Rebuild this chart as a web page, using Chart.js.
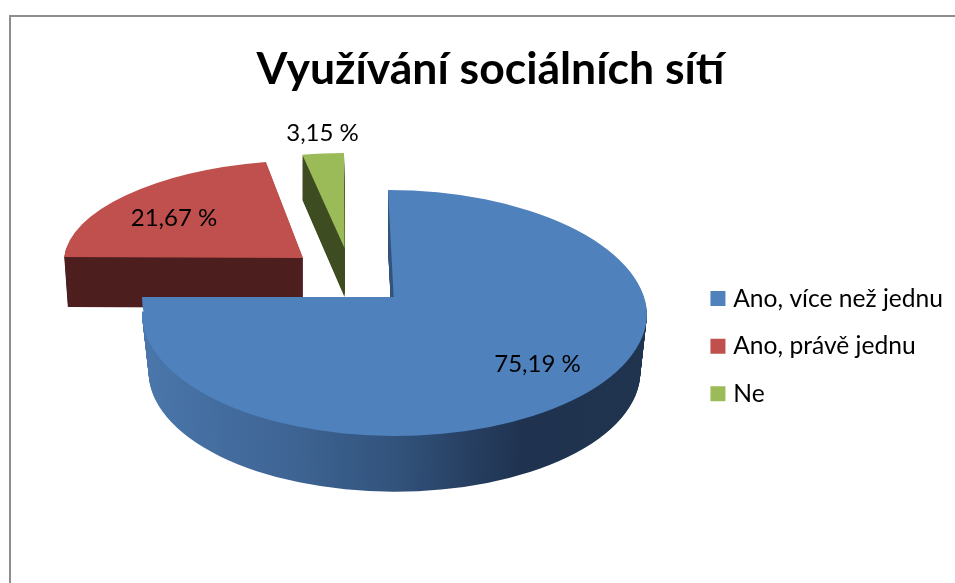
<!DOCTYPE html>
<html>
<head>
<meta charset="utf-8">
<style>
html,body{margin:0;padding:0;background:#fff;overflow:hidden}
#frame{position:absolute;left:9px;top:15px;width:946px;height:568px;border-top:2px solid #8e8e8e;border-left:2px solid #8e8e8e;box-sizing:border-box}
canvas{position:absolute;left:0;top:0}
</style>
<script src="https://cdn.jsdelivr.net/npm/chart.js@4/dist/chart.umd.min.js"></script>
</head>
<body>
<div id="frame"></div>
<canvas id="c" width="955" height="583"></canvas>
<script>
const titleText = 'Využívání sociálních sítí';
const categories = ['Ano, více než jednu', 'Ano, právě jednu', 'Ne'];
const values = [75.19, 21.67, 3.15];
const topColors = ['#4f81bd', '#c0504d', '#9bbb59'];
const wallColors = [null, '#4d1f1e', '#3f4d22'];
const FONT = 'Lato, Carlito, sans-serif';

// projection of each exploded slice (the 3D look)
const views = [
  {x:394.5, y:313, rx:252.5, ry:123, k:0.053, kLow:0, depth:59, taperX:0.00045, taperY:0.00045, lx:143, ly:51},
  {x:303,   y:258, rx:239,   ry:98,  k:-0.103,depth:50, taperX:0.0003, taperY:0.0003, lx:-129,ly:-40},
  {x:344.5, y:248, rx:212,   ry:95,  k:0.005, depth:49, taperX:0, taperY:-0.0009, lx:-22, ly:-115}
];
const blueWallStops = [[143,'#4a76ab'],[300,'#3d6392'],[400,'#31527b'],[470,'#273f61'],[525,'#1f3350'],[650,'#20344f']];

function place(ctx, el, v, t, k){
  const s = v.rx*(1 - v.taperX*t)/el.outerRadius;
  const sy = v.ry*(1 - v.taperY*t)/el.outerRadius;
  ctx.translate(v.x, v.y + t);
  ctx.transform(s, 0, k*sy, sy, 0, 0);
  ctx.translate(-el.x, -el.y);
}
function paint(ctx, el, color){
  const saved = el.options;
  el.options = {backgroundColor:color, borderColor:color, borderWidth:0, offset:0, spacing:0,
                borderRadius:0, circular:true, borderAlign:'center'};
  el.draw(ctx);
  el.options = saved;
}
function slice(ctx, el, v, t, color){
  if(v.kLow === undefined){
    ctx.save(); place(ctx,el,v,t,v.k); paint(ctx,el,color); ctx.restore();
    return;
  }
  const seam = v.y + t;
  ctx.save();
  ctx.beginPath(); ctx.rect(0,0,955,seam+0.5); ctx.clip();
  place(ctx,el,v,t,v.k); paint(ctx,el,color);
  ctx.restore();
  ctx.save();
  ctx.beginPath(); ctx.rect(0,seam,955,583-seam); ctx.clip();
  place(ctx,el,v,t,v.kLow); paint(ctx,el,color);
  ctx.restore();
}
const pie3d = {
  id:'pie3d',
  beforeDatasetDraw(chart){
    const ctx = chart.ctx, arcs = chart.getDatasetMeta(0).data;
    [1,2,0].forEach(i=>{
      const el = arcs[i], v = views[i];
      let wall = wallColors[i];
      if(!wall){
        const s = v.rx/el.outerRadius;
        const g = ctx.createLinearGradient(el.x+(143-v.x)/s,0,el.x+(650-v.x)/s,0);
        blueWallStops.forEach(p=>g.addColorStop((p[0]-143)/507,p[1]));
        wall = g;
      }
      for(let t=v.depth;t>=1;t-=1) slice(ctx,el,v,t,wall);
      if(i===0){
        // perspective: the near half of the top face bulges from the slice tip
        ctx.save();
        ctx.beginPath(); ctx.rect(0,297,400,36); ctx.clip();
        ctx.translate(392,297);
        ctx.transform(250/el.outerRadius,0,0,139/el.outerRadius,0,0);
        ctx.translate(-el.x,-el.y);
        paint(ctx,el,topColors[0]);
        ctx.restore();
      }
      slice(ctx,el,v,0,topColors[i]);
    });
    ctx.save();
    ctx.fillStyle='#000'; ctx.font='24px '+FONT; ctx.textAlign='center'; ctx.textBaseline='middle';
    values.forEach((val,i)=>{
      const v=views[i];
      ctx.fillText(val.toFixed(2).replace('.',',')+' %', v.x+v.lx, v.y+v.ly);
    });
    ctx.restore();
    return false;
  }
};

new Chart(document.getElementById('c'),{
  type:'pie',
  data:{labels:categories,datasets:[{data:values,backgroundColor:topColors,borderWidth:0}]},
  plugins:[pie3d],
  options:{
    responsive:false,animation:false,
    layout:{padding:{left:28,top:43,right:2,bottom:0}},
    plugins:{
      tooltip:{enabled:false},
      title:{display:true,text:titleText,color:'#000',font:{family:FONT,size:44.5,weight:'bold'},padding:{top:0,bottom:13}},
      legend:{
        position:'right',fullSize:false,
        labels:{
          color:'#000',font:{family:FONT,size:24.6},
          boxWidth:6,boxHeight:6,padding:23,
          generateLabels(chart){
            return Chart.overrides.pie.plugins.legend.labels.generateLabels(chart).map((it,i)=>
              Object.assign(it,{fillStyle:topColors[i],strokeStyle:topColors[i],lineWidth:9}));
          }
        }
      }
    }
  }
});
</script>
</body>
</html>
